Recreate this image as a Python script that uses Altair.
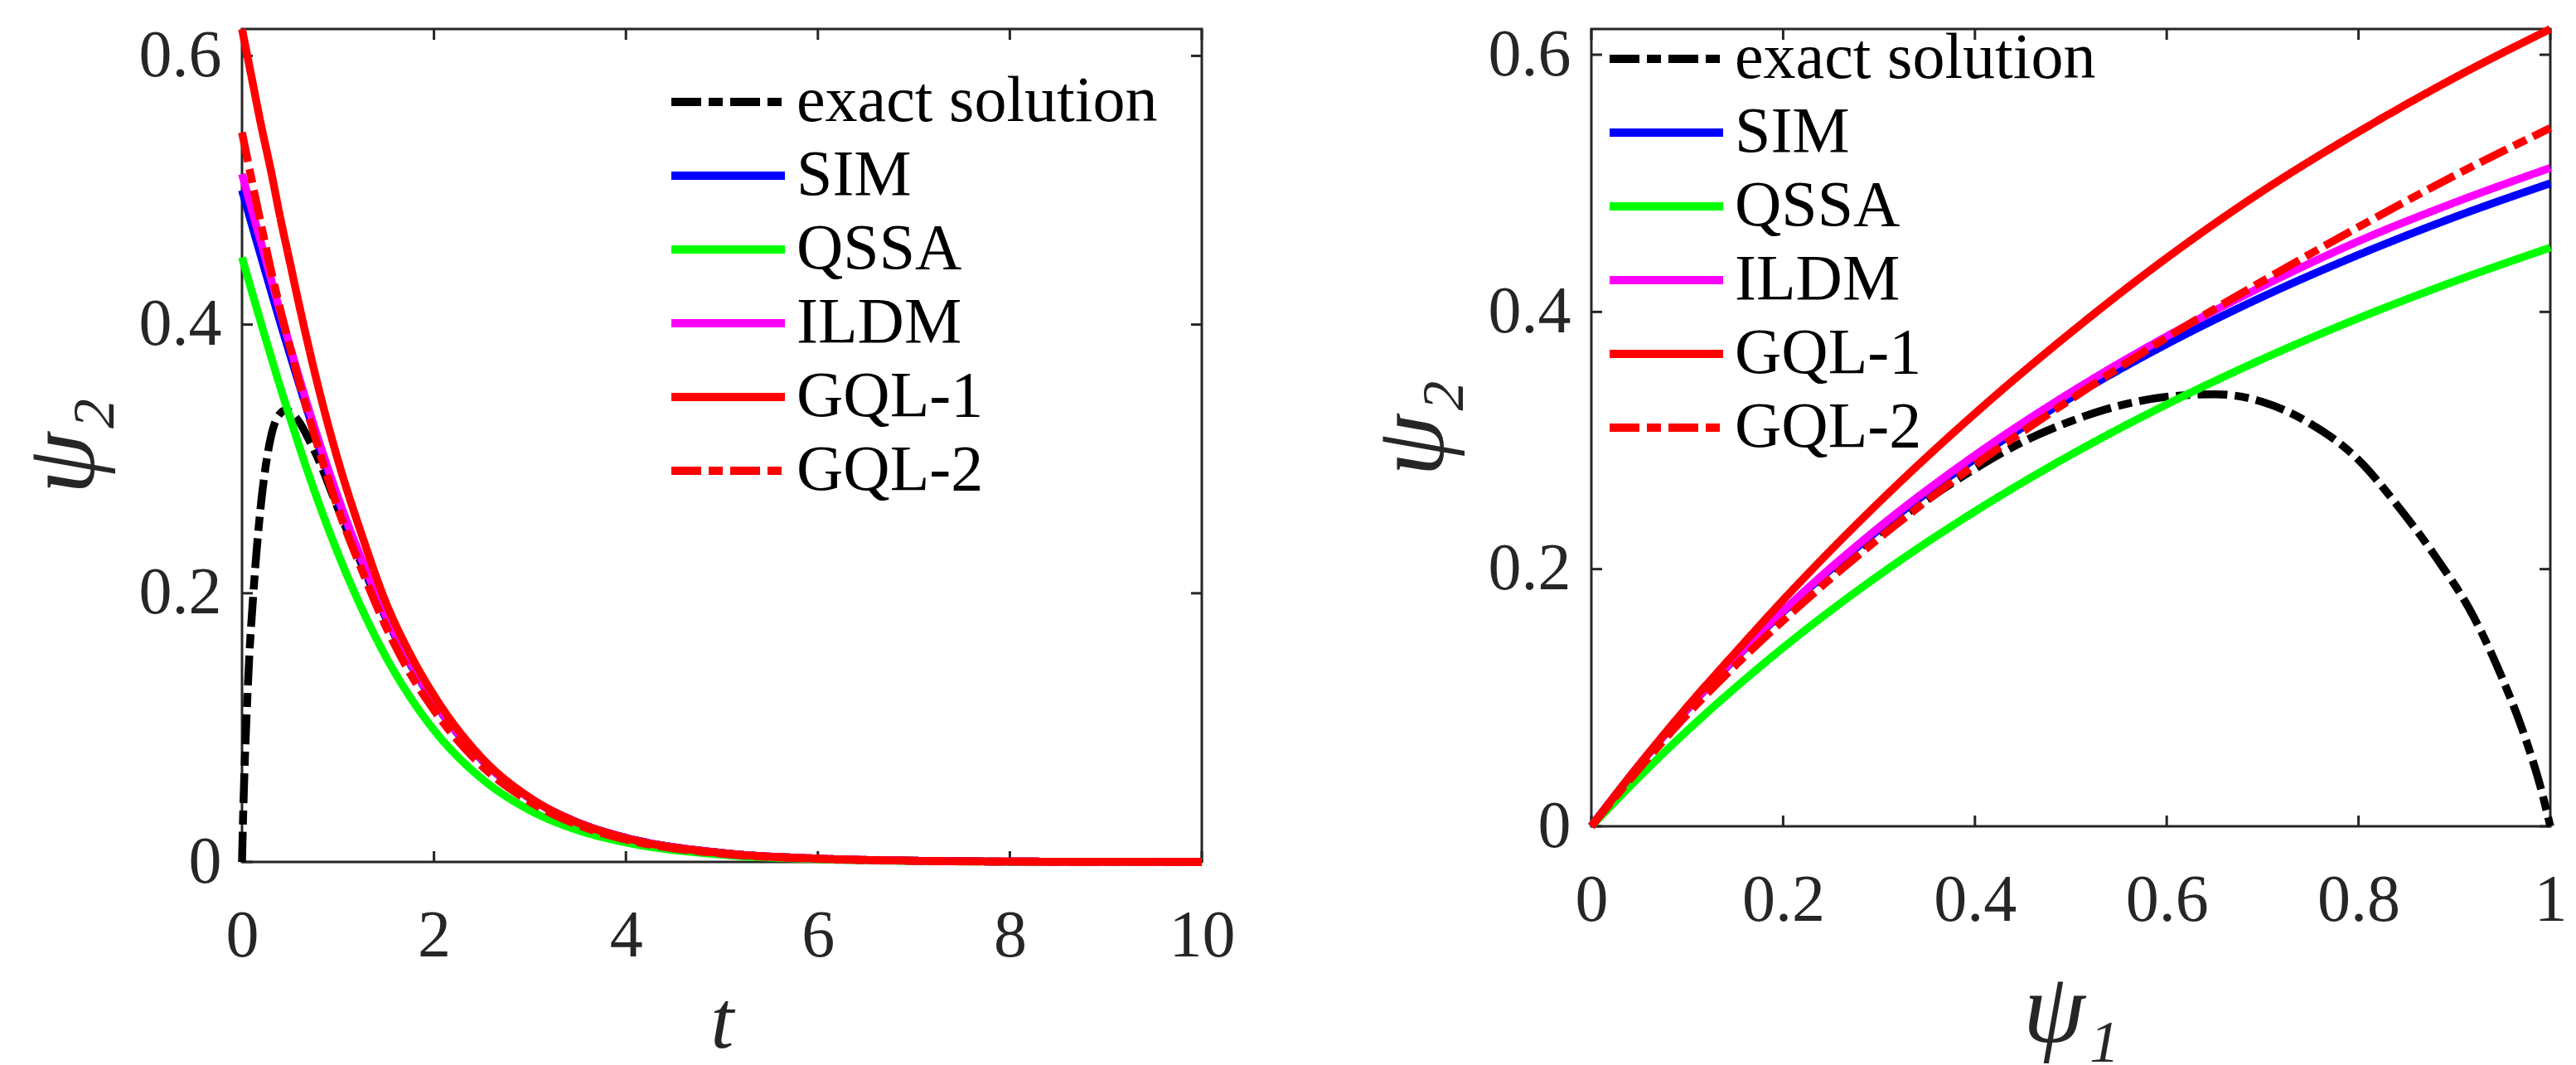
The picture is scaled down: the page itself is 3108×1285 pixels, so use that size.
import altair as alt
import pandas as pd

SERIES = ["exact solution", "SIM", "QSSA", "ILDM", "GQL-1", "GQL-2"]
COLORS = ["#000000", "#0000ff", "#00ff00", "#ff00ff", "#ff0000", "#ff0000"]
DASHDOT = [36, 9, 17, 9]
SOLID = [1, 0]
DASHES = [DASHDOT, SOLID, SOLID, SOLID, SOLID, DASHDOT]

# ---- left panel: psi_2 against t ----
t_exact = [0, 0.01, 0.02, 0.03, 0.05, 0.08, 0.1, 0.15, 0.2, 0.3, 0.4, 0.45, 0.5,
           0.6, 0.7, 0.8, 1.0, 1.25, 1.5, 1.75, 2, 2.5, 3, 3.5, 4, 5, 6, 7, 8, 10]
psi2_exact_t = [0, 0.030, 0.055, 0.077, 0.113, 0.159, 0.181, 0.230, 0.268, 0.316,
                0.334, 0.336, 0.335, 0.327, 0.314, 0.299, 0.263, 0.221, 0.1815,
                0.1478, 0.119, 0.0759, 0.0474, 0.0293, 0.018, 0.0067, 0.0025,
                0.0009, 0.0003, 0.00005]

t_grid = [0, 0.1, 0.2, 0.3, 0.4, 0.5, 0.6, 0.8, 1.0, 1.25, 1.5, 1.75, 2, 2.5, 3,
          3.5, 4, 5, 6, 7, 8, 10]
psi2_sim_t = [0.5, 0.475, 0.4502, 0.4256, 0.4012, 0.3777, 0.3544, 0.3099, 0.269,
              0.223, 0.1824, 0.1482, 0.1192, 0.0759, 0.0474, 0.0293, 0.018, 0.0067,
              0.0025, 0.0009, 0.0003, 0.00005]
psi2_qssa_t = [0.45, 0.4251, 0.4007, 0.3767, 0.3531, 0.3307, 0.3086, 0.2671, 0.2297,
               0.1883, 0.1526, 0.1229, 0.0982, 0.0619, 0.0384, 0.0236, 0.0145,
               0.0054, 0.002, 0.0007, 0.0002, 0.00004]
psi2_ildm_t = [0.512, 0.486, 0.4605, 0.4345, 0.4088, 0.3839, 0.3594, 0.3135, 0.2714,
               0.2246, 0.1834, 0.1488, 0.1196, 0.0761, 0.0475, 0.0293, 0.018,
               0.0067, 0.0025, 0.0009, 0.0003, 0.00005]
psi2_gql1_t = [0.62, 0.584, 0.548, 0.515, 0.479, 0.446, 0.413, 0.352, 0.299, 0.243,
               0.193, 0.155, 0.124, 0.0774, 0.0478, 0.0292, 0.0178, 0.0066, 0.0025,
               0.0009, 0.0003, 0.00005]
psi2_gql2_t = [0.543, 0.508, 0.474, 0.441, 0.411, 0.383, 0.356, 0.307, 0.263, 0.217,
               0.175, 0.1405, 0.113, 0.0714, 0.0448, 0.0275, 0.0167, 0.0062, 0.0023,
               0.0008, 0.0003, 0.00005]

# ---- right panel: psi_2 against psi_1 ----
psi1_exact = [0, 0.05, 0.1, 0.15, 0.2, 0.25, 0.3, 0.35, 0.4, 0.45, 0.5, 0.55, 0.6,
              0.65, 0.7, 0.75, 0.8, 0.84, 0.88, 0.92, 0.95, 0.97, 0.98, 0.99, 1.0]
psi2_exact = [0, 0.0476, 0.0908, 0.1302, 0.1662, 0.1985, 0.228, 0.254, 0.278, 0.299,
              0.315, 0.327, 0.334, 0.336, 0.330, 0.313, 0.285, 0.250, 0.210, 0.163,
              0.115, 0.077, 0.055, 0.030, 0]

psi1_grid = [0, 0.05, 0.1, 0.15, 0.2, 0.3, 0.4, 0.5, 0.6, 0.7, 0.8, 0.9, 1.0]
psi2_sim = [0, 0.0476, 0.0909, 0.1304, 0.1667, 0.2308, 0.2857, 0.3333, 0.375, 0.4118,
            0.4444, 0.4737, 0.5]
psi2_qssa = [0, 0.0385, 0.0744, 0.1077, 0.1389, 0.1953, 0.2449, 0.2889, 0.3281,
             0.3634, 0.3951, 0.4238, 0.45]
psi2_ildm = [0, 0.0477, 0.0912, 0.131, 0.1675, 0.2325, 0.2885, 0.3375, 0.381, 0.420,
             0.455, 0.485, 0.512]
psi2_gql1 = [0, 0.048, 0.093, 0.135, 0.176, 0.252, 0.321, 0.384, 0.442, 0.494, 0.540,
             0.582, 0.62]
psi2_gql2 = [0, 0.045, 0.087, 0.125, 0.160, 0.224, 0.281, 0.332, 0.380, 0.424, 0.466,
             0.506, 0.543]

y_ticks = [0, 0.2, 0.4, 0.6]
t_ticks = [0, 2, 4, 6, 8, 10]
psi1_ticks = [0, 0.2, 0.4, 0.6, 0.8, 1.0]

FONT = "Liberation Serif"
AXIS_COLOR = "#262626"
TICK_LEN = 13


def long_table(xs_list, ys_list):
    rows = []
    for name, xs, ys in zip(SERIES, xs_list, ys_list):
        for x, y in zip(xs, ys):
            rows.append({"x": x, "y": y, "series": name})
    return pd.DataFrame(rows)


left_df = long_table(
    [t_exact, t_grid, t_grid, t_grid, t_grid, t_grid],
    [psi2_exact_t, psi2_sim_t, psi2_qssa_t, psi2_ildm_t, psi2_gql1_t, psi2_gql2_t],
)
right_df = long_table(
    [psi1_exact, psi1_grid, psi1_grid, psi1_grid, psi1_grid, psi1_grid],
    [psi2_exact, psi2_sim, psi2_qssa, psi2_ildm, psi2_gql1, psi2_gql2],
)


def panel(df, x_title, x_title_size, x_title_pad, x_domain, x_ticks, width, height,
          legend_x, legend_y):
    xs = alt.Scale(domain=x_domain, nice=False, zero=False)
    ys = alt.Scale(domain=[0, 0.62], nice=False, zero=False)
    common = dict(
        labelFont=FONT, labelFontSize=80, labelColor=AXIS_COLOR,
        titleFont=FONT, titleFontStyle="italic",
        titleFontWeight="normal", titleColor=AXIS_COLOR,
        ticks=False, tickSize=0, domain=False, grid=False, format="~r",
        labelFlush=False, labelOverlap=False, labelBound=False,
    )
    x_axis = alt.Axis(values=x_ticks, title=x_title, labelPadding=50,
                      titleFontSize=x_title_size, titlePadding=x_title_pad, **common)
    y_axis = alt.Axis(values=y_ticks, title="ψ₂", labelPadding=25,
                      titleFontSize=120, titlePadding=30, **common)

    legend = alt.Legend(
        title=None, orient="none", legendX=legend_x, legendY=legend_y,
        symbolType="stroke", symbolSize=18769, symbolStrokeWidth=10,
        clipHeight=88.6, rowPadding=0, labelOffset=9, padding=0,
        labelFont=FONT, labelFontSize=78, labelColor="#000000", labelLimit=0,
    )

    ytick_df = pd.DataFrame({"y": y_ticks})
    xtick_df = pd.DataFrame({"x": x_ticks})
    rule = dict(color=AXIS_COLOR, strokeWidth=3)

    # short inward tick marks on all four sides of the frame
    left_ticks = alt.Chart(ytick_df).mark_rule(**rule).encode(
        y=alt.Y("y:Q", scale=ys, axis=y_axis),
        x=alt.value(0), x2=alt.value(TICK_LEN))
    right_ticks = alt.Chart(ytick_df).mark_rule(**rule).encode(
        y=alt.Y("y:Q", scale=ys, axis=y_axis),
        x=alt.value(width - TICK_LEN), x2=alt.value(width))
    bottom_ticks = alt.Chart(xtick_df).mark_rule(**rule).encode(
        x=alt.X("x:Q", scale=xs, axis=x_axis),
        y=alt.value(height), y2=alt.value(height - TICK_LEN))
    top_ticks = alt.Chart(xtick_df).mark_rule(**rule).encode(
        x=alt.X("x:Q", scale=xs, axis=x_axis),
        y=alt.value(0), y2=alt.value(TICK_LEN))

    lines = alt.Chart(df).mark_line(strokeWidth=9.5, interpolate="monotone").encode(
        x=alt.X("x:Q", scale=xs, axis=x_axis),
        y=alt.Y("y:Q", scale=ys, axis=y_axis),
        color=alt.Color("series:N", scale=alt.Scale(domain=SERIES, range=COLORS),
                        legend=legend),
        strokeDash=alt.StrokeDash("series:N",
                                  scale=alt.Scale(domain=SERIES, range=DASHES),
                                  legend=legend),
    )
    return alt.layer(left_ticks, right_ticks, bottom_ticks, top_ticks, lines).properties(
        width=width, height=height)


left = panel(left_df, "t", 100, 15, [0, 10], t_ticks, 1158, 1005, 513, 43.7)
right = panel(right_df, "ψ₁", 120, 35, [0, 1], psi1_ticks, 1157, 962, 17, -8.3)

chart = (
    alt.hconcat(left, right, spacing=470, bounds="flush")
    .resolve_scale(color="independent", strokeDash="independent",
                   x="independent", y="independent")
    .resolve_legend(color="independent", strokeDash="independent")
    .properties(padding={"left": 14, "top": 14, "right": 8, "bottom": 4},
                background="white")
    .configure_view(stroke=AXIS_COLOR, strokeWidth=3)
)

chart.save("out.html", embed_options={"renderer": "svg", "actions": False})
